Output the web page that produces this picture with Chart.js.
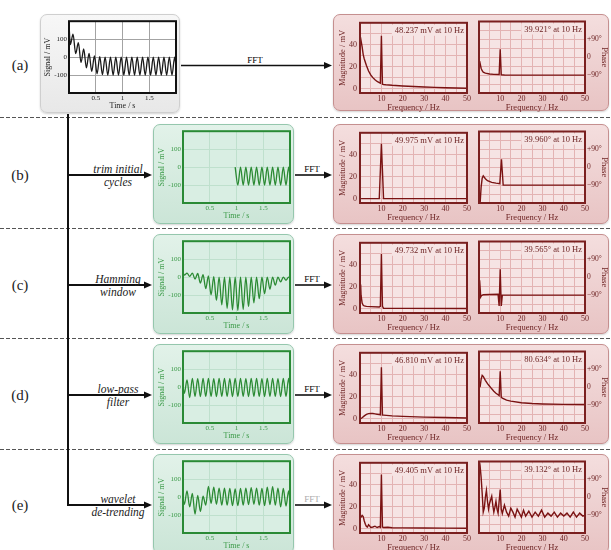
<!DOCTYPE html>
<html>
<head>
<meta charset="utf-8">
<script src="https://cdn.jsdelivr.net/npm/chart.js@4.4.0/dist/chart.umd.min.js"></script>
<style>
  body { margin: 0; background: #fff; }
  #fig { position: relative; width: 611px; height: 550px; overflow: hidden; font-family: 'Liberation Serif', serif; }
  .panel { position: absolute; border-radius: 7px; box-sizing: border-box; }
  .grey { background: linear-gradient(#f7f7f7, #e8e8e8); border: 1px solid #cfcfcf; box-shadow: 0 1px 2px rgba(0,0,0,.18); }
  .green { background: linear-gradient(#e2f2e9, #cbe5d7); border: 1px solid #95c7ad; box-shadow: 0 1px 2px rgba(0,0,0,.18); }
  .red { background: linear-gradient(#f4dede, #e8c4c4); border: 1px solid #c58f8f; box-shadow: 0 1px 2px rgba(0,0,0,.18); }
  canvas { position: absolute; }
  svg { position: absolute; left: 0; top: 0; }
</style>
</head>
<body>
<div id="fig"></div>
<script>
// ---- signal data (time in s, signal in mV) ----
const sigTime = [0, 0.025, 0.075, 0.125, 0.175, 0.225, 0.275, 0.325, 0.375, 0.425, 0.475,
  0.525, 0.575, 0.625, 0.675, 0.725, 0.775, 0.825, 0.875, 0.925, 0.975,
  1.025, 1.075, 1.125, 1.175, 1.225, 1.275, 1.325, 1.375, 1.425, 1.475,
  1.525, 1.575, 1.625, 1.675, 1.725, 1.775, 1.825, 1.875, 1.925, 1.975, 2.0];

const sigA = [185, 70, 128, 20, 80, -30, 45, -60, 20, -80, 6, -93, 2, -98, 0,
  -100, 0, -100, 0, -100, 0, -100, 0, -100, 0, -100, 0, -100, 0, -100, 0,
  -100, 0, -100, 0, -100, 0, -100, 0, -100, 0, -50];
const sigB = [null, null, null, null, null, null, null, null, null, null,
  null, null, null, null, null, null, null, null, null, null, 0,
  -100, 0, -100, 0, -100, 0, -100, 0, -100, 0,
  -100, 0, -100, 0, -100, 0, -100, 0, -100, 0, -50];
const sigC = [27, 11, 22, 4, 22, -11, 20, -33, 13, -64, 6, -99, 2, -130, 0,
  -155, 0, -173, 0, -183, 0, -185, 0, -179, 0, -165, 0, -144, 0, -120, 0,
  -93, 0, -67, 0, -45, 0, -27, 0, -17, 0, -7];
const sigD = [5, -35, 40, -58,
  48, -52, 47, -53, 48, -52, 48, -52, 47, -53, 48, -52, 48, -52, 47, -53,
  48, -52, 48, -52, 47, -53, 48, -52, 48, -52, 47, -53, 48, -52, 48, -52,
  47, -53, 48, -52, 48, 0];
const sigE = [-10, -40, 35, -55, 20, -95, 10, -80, 5, -45, 60, -35, 55, -40, 50,
  -45, 50, -45, 48, -48, 45, -48, 48, -45, 50, -42, 52, -40, 50, -45, 48,
  -48, 55, -42, 58, -45, 50, -55, 48, -50, 35, -20];

// ---- FFT magnitude (Hz, mV) ----
const magFreqA = [0.2, 1, 1.5, 2, 3, 4, 5, 6, 7, 8, 9, 9.5, 10, 10.5, 11, 12, 15, 20, 25, 30, 35, 40, 45, 50];
const magA = [47, 38, 31, 27, 21, 16, 12.5, 10, 8, 6.5, 5.5, 5, 48.2, 4, 3.8, 3.5, 3, 2.4, 1.9, 1.5, 1.1, 0.8, 0.5, 0.3];
const magFreqB = [0.5, 9, 10, 11, 50];
const magB = [0, 0, 50, 0, 0];
const magFreqC = [0.3, 0.5, 1, 1.5, 2, 3, 5, 9, 9.5, 10, 10.5, 11, 20, 50];
const magC = [22, 12, 5, 3, 2.5, 2, 1.8, 1.5, 2, 49.7, 2, 0.3, 0.2, 0.1];
const magFreqD = [0.3, 1, 2, 3, 4, 5, 6, 7, 8, 9, 9.5, 10, 10.5, 11, 15, 20, 30, 40, 50];
const magD = [0, 0.8, 2.5, 3.8, 4.5, 4.8, 4.6, 4.3, 4, 3.7, 3.5, 46.8, 3.3, 3.2, 2.5, 2, 1.4, 1, 0.6];
const magFreqE = [0.3, 1, 1.5, 2, 2.5, 3, 3.5, 4, 4.5, 5, 6, 7, 8, 9, 9.5, 10, 10.5, 11, 13, 15, 20, 30, 40, 50];
const magE = [10, 12, 11, 7, 4, 2, 1.5, 3.5, 2.5, 1, 1.5, 2.2, 1, 1.8, 1.2, 49.4, 1.5, 1, 1.2, 0.8, 0.7, 0.5, 0.4, 0.3];

// ---- FFT phase (Hz, degrees) ----
const phFreqA = [0.3, 1, 1.5, 2, 3, 5, 7, 9.5, 10, 10.5, 12, 20, 50];
const phaseA = [-20, -55, -68, -75, -80, -84, -86, -87, 39.9, -88, -89, -90, -90];
const phFreqB = [0.5, 1.0, 1.5, 2, 3, 4, 6, 8, 9.8, 10.6, 11.4, 50];
const phaseB = [-185, -100, -55, -43, -58, -68, -76, -80, -83, 40, -90, -90];
const phFreqC = [0.3, 0.8, 1.2, 2, 5, 9, 9.5, 10, 10.5, 11, 50];
const phaseC = [-15, -100, -92, -88, -87, -86, -145, 39.6, -145, -90, -90];
const phFreqD = [0.5, 1, 1.5, 2, 3, 4, 5, 6, 7, 8, 9, 9.5, 10, 10.5, 11, 13, 15, 20, 25, 30, 40, 50];
const phaseD = [0, 40, 60, 55, 35, 18, 5, -8, -20, -30, -38, -42, 80.6, -50, -55, -65, -70, -78, -82, -84, -86, -87];
const phFreqE = [0.3, 0.5, 1, 1.5, 2, 2.5, 3, 3.5, 4, 4.5, 5, 6, 6.5, 7, 7.5, 8, 8.5, 9, 9.5, 10, 10.5, 11,
  12, 13, 14, 15, 16, 17, 18, 19, 20, 21, 22, 23.5, 25, 26.5, 28, 29.5, 31, 32.5, 34, 35.5, 37, 38.5,
  40, 41.5, 43, 44.5, 46, 47.5, 49, 50];
const phaseE = [175, 160, 100, 20, -75, -55, 0, 35, -20, -60, -30, 5, -40, -75, -50, -20, -60, -80, -20, 39.1, -60, -82,
  -40, -75, -95, -55, -75, -100, -60, -80, -100, -65, -95, -70, -100, -75, -95, -65, -100, -80, -95, -75, -100, -80,
  -95, -80, -100, -75, -100, -80, -95, -90];

// ---- texts and tick labels ----
const rowTags = ['(a)', '(b)', '(c)', '(d)', '(e)'];
const stepLabels = [['trim initial', 'cycles'], ['Hamming', 'window'], ['low-pass', 'filter'], ['wavelet', 'de-trending']];
const magNotes = ['48.237 mV at 10 Hz', '49.975 mV at 10 Hz', '49.732 mV at 10 Hz', '46.810 mV at 10 Hz', '49.405 mV at 10 Hz'];
const phaseNotes = ['39.921° at 10 Hz', '39.960° at 10 Hz', '39.565° at 10 Hz', '80.634° at 10 Hz', '39.132° at 10 Hz'];
const timeTicks = [0.5, 1, 1.5];
const signalTicks = [-100, 0, 100];
const freqGrid = [5, 10, 15, 20, 25, 30, 35, 40, 45, 50];
const freqTicks = [10, 20, 30, 40, 50];
const magGrid = [0, 10, 20, 30, 40, 50];
const magTicks = [0, 20, 40];
const phaseGrid = [-135, -90, -45, 0, 45, 90, 135];
const phaseTickText = { '90': '+90°', '0': '0', '-90': '−90°' };

const themes = {
  grey:  { line: '#1a1a1a', plotBg: '#ffffff', grid: '#a3a3a3', border: '#111111', text: '#222222' },
  green: { line: '#2b8a33', plotBg: '#d9eee3', grid: '#bfe0cd', border: '#2a8a35', text: '#3a9a47' },
  red:   { line: '#7a1212', plotBg: '#f6e4e4', grid: '#e3b3b3', border: '#7a2020', text: '#6e2424' }
};

Chart.defaults.font.family = "'Liberation Serif', serif";

const fig = document.getElementById('fig');
const rowTop = [14, 124, 234, 344, 454];

// plot background, peak note and frame
const framePlugin = {
  id: 'frame',
  beforeDraw(chart, args, o) {
    const a = chart.chartArea, c = chart.ctx;
    c.save(); c.fillStyle = o.bg; c.fillRect(a.left, a.top, a.width, a.height); c.restore();
  },
  beforeDatasetsDraw(chart, args, o) {
    if (!o.note) return;
    const a = chart.chartArea, c = chart.ctx;
    c.save();
    c.font = "8.5px 'Liberation Serif', serif";
    const w = c.measureText(o.note).width;
    c.fillStyle = o.bg;
    c.fillRect(a.right - w - 6, a.top + 2, w + 5, 11);
    c.fillStyle = o.color;
    c.textAlign = 'right'; c.textBaseline = 'middle';
    c.fillText(o.note, a.right - 3, a.top + 8);
    c.restore();
  },
  afterDraw(chart, args, o) {
    const a = chart.chartArea, c = chart.ctx;
    c.save(); c.strokeStyle = o.border; c.lineWidth = 2;
    c.strokeRect(a.left, a.top, a.width, a.height); c.restore();
  }
};

function addPanel(cls, x, y, w, h) {
  const d = document.createElement('div');
  d.className = 'panel ' + cls;
  Object.assign(d.style, { left: x + 'px', top: y + 'px', width: w + 'px', height: h + 'px' });
  fig.appendChild(d);
}

function addCanvas(x, y, w, h) {
  const cv = document.createElement('canvas');
  cv.width = w; cv.height = h;
  cv.style.left = x + 'px'; cv.style.top = y + 'px';
  fig.appendChild(cv);
  return cv;
}

function signalChart(plotLeft, plotTop, values, th) {
  const cv = addCanvas(plotLeft - 30, plotTop - 4, 141, 98);
  new Chart(cv, {
    type: 'line',
    data: { datasets: [{
      data: sigTime.map((t, i) => ({ x: t, y: values[i] })),
      borderColor: th.line, borderWidth: 1.3, pointRadius: 0,
      cubicInterpolationMode: 'monotone', spanGaps: false
    }] },
    options: {
      responsive: false, animation: false, devicePixelRatio: 1,
      layout: { padding: { top: 4, right: 4, left: 0, bottom: 0 } },
      plugins: { legend: { display: false }, tooltip: { enabled: false },
        frame: { bg: th.plotBg, border: th.border } },
      scales: {
        x: {
          type: 'linear', min: 0, max: 2,
          afterBuildTicks: s => { s.ticks = timeTicks.map(v => ({ value: v })); },
          afterFit: s => { s.height = 20; },
          grid: { color: th.grid, drawTicks: false },
          border: { display: false },
          ticks: { color: th.text, font: { size: 7 }, padding: 1, maxRotation: 0, autoSkip: false,
            callback: v => String(v) },
          title: { display: true, text: 'Time / s', color: th.text, font: { size: 8 }, padding: { top: 0, bottom: 2 } }
        },
        y: {
          min: -200, max: 200,
          afterBuildTicks: s => { s.ticks = signalTicks.map(v => ({ value: v })); },
          afterFit: s => { s.width = 30; },
          grid: { color: th.grid, drawTicks: false },
          border: { display: false },
          ticks: { color: th.text, font: { size: 7 }, padding: 2, autoSkip: false, callback: v => String(v) },
          title: { display: true, text: 'Signal / mV', color: th.text, font: { size: 8 }, padding: { top: 4, bottom: 0 } }
        }
      }
    },
    plugins: [framePlugin]
  });
}

function freqAxis(th) {
  return {
    type: 'linear', min: 0, max: 50,
    afterBuildTicks: s => { s.ticks = freqGrid.map(v => ({ value: v })); },
    afterFit: s => { s.height = 22; },
    grid: { color: th.grid, drawTicks: false },
    border: { display: false },
    ticks: { color: th.text, font: { size: 8 }, padding: 1, maxRotation: 0, autoSkip: false,
      callback: v => freqTicks.includes(v) ? String(v) : '' },
    title: { display: true, text: 'Frequency / Hz', color: th.text, font: { size: 8.5 }, padding: { top: 0, bottom: 2 } }
  };
}

function fftChart(x, plotTop, w, freqs, vals, note, th, isPhase) {
  const cv = addCanvas(x, plotTop - 4, w, 100);
  const yAxis = isPhase ? {
    position: 'right', min: -180, max: 180,
    afterBuildTicks: s => { s.ticks = phaseGrid.map(v => ({ value: v })); },
    afterFit: s => { s.width = 26; },
    grid: { color: th.grid, drawTicks: false },
    border: { display: false },
    ticks: { color: th.text, font: { size: 7.5 }, padding: 2, autoSkip: false,
      callback: v => phaseTickText[String(v)] || '' },
    title: { display: true, text: 'Phase', color: th.text, font: { size: 8.5 }, padding: { top: 2, bottom: 0 } }
  } : {
    min: -4, max: 60,
    afterBuildTicks: s => { s.ticks = magGrid.map(v => ({ value: v })); },
    afterFit: s => { s.width = 26; },
    grid: { color: th.grid, drawTicks: false },
    border: { display: false },
    ticks: { color: th.text, font: { size: 8 }, padding: 3, autoSkip: false,
      callback: v => magTicks.includes(v) ? String(v) : '' },
    title: { display: true, text: 'Magnitude / mV', color: th.text, font: { size: 8.5 }, padding: { top: 4, bottom: 0 } }
  };
  new Chart(cv, {
    type: 'line',
    data: { datasets: [{
      data: freqs.map((f, i) => ({ x: f, y: vals[i] })),
      borderColor: th.line, borderWidth: 1.4, pointRadius: 0, tension: 0
    }] },
    options: {
      responsive: false, animation: false, devicePixelRatio: 1,
      layout: { padding: isPhase ? { top: 4, left: 2, right: 0, bottom: 0 } : { top: 4, left: 0, right: 6, bottom: 0 } },
      plugins: { legend: { display: false }, tooltip: { enabled: false },
        frame: { bg: th.plotBg, border: th.border, note: note, color: th.text } },
      scales: { x: freqAxis(th), y: yAxis }
    },
    plugins: [framePlugin]
  });
}

const rows = [
  { sig: sigA, mf: magFreqA, m: magA, pf: phFreqA, p: phaseA },
  { sig: sigB, mf: magFreqB, m: magB, pf: phFreqB, p: phaseB },
  { sig: sigC, mf: magFreqC, m: magC, pf: phFreqC, p: phaseC },
  { sig: sigD, mf: magFreqD, m: magD, pf: phFreqD, p: phaseD },
  { sig: sigE, mf: magFreqE, m: magE, pf: phFreqE, p: phaseE }
];

// panels
rows.forEach((r, i) => {
  const P = rowTop[i];
  if (i === 0) addPanel('grey', 40, P, 140, 99);
  else addPanel('green', 153, P, 141, 100);
  addPanel('red', 333, P, 276, i === 0 ? 97 : 100);
});

// arrows, separators and labels
let svg = '<svg width="611" height="550" xmlns="http://www.w3.org/2000/svg" font-family="Liberation Serif, serif">';
[117.5, 228.5, 338.5, 449.5].forEach(y => {
  svg += `<line x1="0" y1="${y}" x2="611" y2="${y}" stroke="#555" stroke-width="1" stroke-dasharray="4 2"/>`;
});
svg += '<path d="M68 114 V505" stroke="#111" stroke-width="2" fill="none"/>';
rows.forEach((r, i) => {
  const yc = rowTop[i] + 51;
  svg += `<text x="20" y="${yc + 5}" font-size="15" text-anchor="middle" fill="#222">${rowTags[i]}</text>`;
  if (i === 0) {
    svg += `<line x1="181" y1="${yc + 0.5}" x2="326" y2="${yc + 0.5}" stroke="#111" stroke-width="1.6"/>`;
    svg += `<polygon points="332,${yc + 0.5} 324,${yc - 3} 324,${yc + 4}" fill="#111"/>`;
    svg += `<text x="255" y="${yc - 2}" font-size="9" text-anchor="middle" fill="#000">FFT</text>`;
  } else {
    svg += `<line x1="67" y1="${yc}" x2="146" y2="${yc}" stroke="#111" stroke-width="2"/>`;
    svg += `<polygon points="152,${yc} 144,${yc - 3.5} 144,${yc + 3.5}" fill="#111"/>`;
    svg += `<text x="118" y="${yc - 2.5}" font-size="11.5" font-style="italic" text-anchor="middle" fill="#222">${stepLabels[i - 1][0]}</text>`;
    svg += `<text x="118" y="${yc + 10.5}" font-size="11.5" font-style="italic" text-anchor="middle" fill="#222">${stepLabels[i - 1][1]}</text>`;
    svg += `<line x1="295" y1="${yc}" x2="326" y2="${yc}" stroke="#111" stroke-width="1.6"/>`;
    svg += `<polygon points="332,${yc} 324,${yc - 3.5} 324,${yc + 3.5}" fill="#111"/>`;
    svg += `<text x="312" y="${yc - 3}" font-size="9" text-anchor="middle" fill="${i === 4 ? '#aaa' : '#000'}">FFT</text>`;
  }
});
svg += '</svg>';
fig.insertAdjacentHTML('beforeend', svg);

// charts
rows.forEach((r, i) => {
  const plotTop = rowTop[i] + 5;
  const th = i === 0 ? themes.grey : themes.green;
  signalChart(i === 0 ? 69 : 183, plotTop, r.sig, th);
  fftChart(334, plotTop, 139, r.mf, r.m, magNotes[i], themes.red, false);
  fftChart(477, plotTop, 134, r.pf, r.p, phaseNotes[i], themes.red, true);
});
</script>
</body>
</html>
